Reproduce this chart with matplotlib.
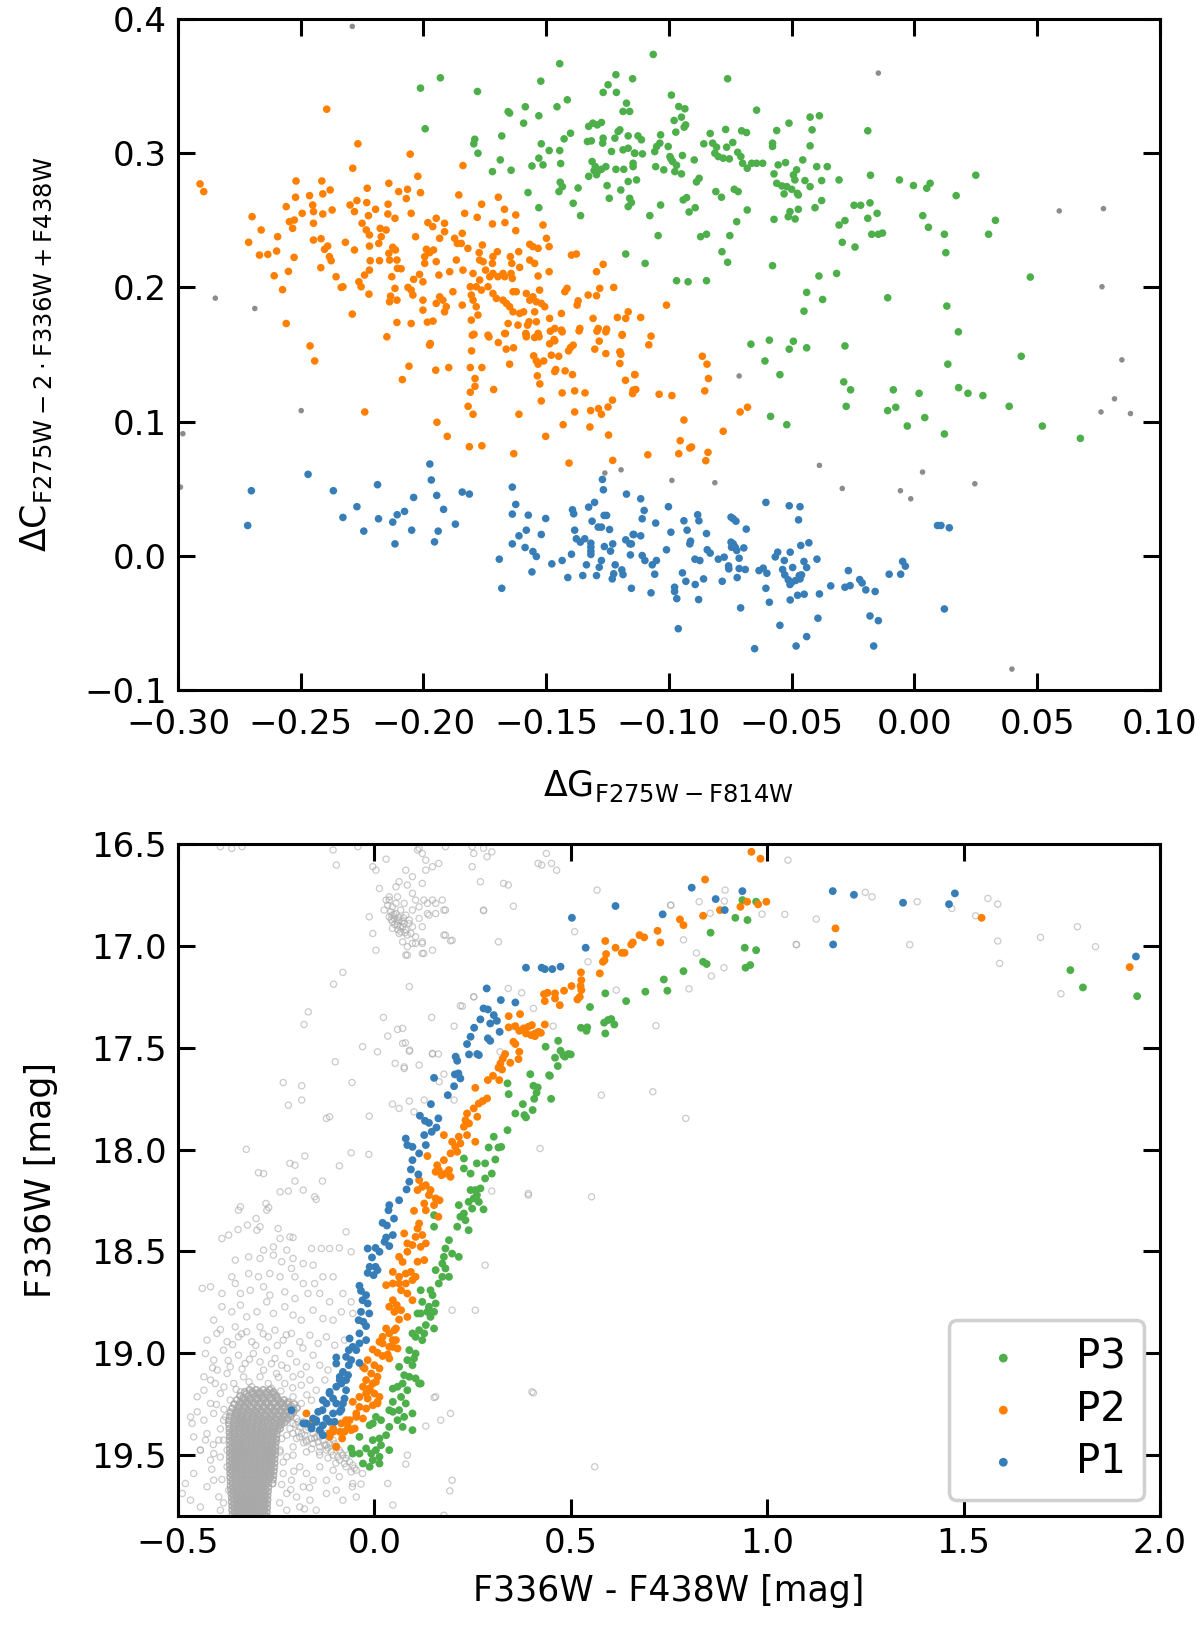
import numpy as np
import matplotlib
matplotlib.use('Agg')
import matplotlib.pyplot as plt

# ---------------- верхняя панель: хромосомная карта ----------------
top_p3 = [(-0.2012,0.3485),(-0.1931,0.3562),(-0.1993,0.3182),(-0.178,0.346),(-0.1522,0.3537),(-0.1445,0.3667),
          (-0.1655,0.331),(-0.1649,0.3299),(-0.1585,0.3346),(-0.1592,0.3224),(-0.153,0.3279),(-0.1456,0.3346),
          (-0.1414,0.3398),(-0.1791,0.3104),(-0.1795,0.307),(-0.1778,0.300),(-0.1681,0.3129),(-0.1687,0.295),
          (-0.1719,0.2863),(-0.1643,0.2873),(-0.152,0.307),(-0.1488,0.302),(-0.1445,0.302),(-0.1427,0.3107),
          (-0.1401,0.3149),(-0.153,0.2963),(-0.1513,0.2913),(-0.1558,0.2905),(-0.1441,0.2923),(-0.1574,0.2707),
          (-0.153,0.2594),(-0.1443,0.2784),(-0.1448,0.2714),(-0.1434,0.2751),(-0.137,0.2741),(-0.139,0.2627),
          (-0.136,0.2535),(-0.1327,0.320),(-0.131,0.3224),(-0.1275,0.3229),(-0.1292,0.3211),(-0.1332,0.3087),
          (-0.1316,0.3092),(-0.1268,0.3112),(-0.127,0.3075),(-0.1268,0.3453),(-0.1248,0.351),(-0.1216,0.3585),
          (-0.1214,0.3453),(-0.1173,0.3373),(-0.1187,0.3311),(-0.116,0.3311),(-0.1148,0.3555),
          (-0.1313,0.2938),(-0.1300,0.2900),(-0.1290,0.2865),(-0.1327,0.2828),(-0.1295,0.2840),(-0.1275,0.2880),
          (-0.1305,0.2870),(-0.1257,0.290),(-0.1234,0.3013),(-0.1216,0.288),(-0.1184,0.288),(-0.12,0.3174),
          (-0.1207,0.3162),(-0.122,0.3112),(-0.1166,0.3129),(-0.1187,0.3025),(-0.1166,0.3037),(-0.1139,0.300),
          (-0.1146,0.2925),(-0.1146,0.290),(-0.1166,0.2789),(-0.1132,0.2801),(-0.1252,0.2759),(-0.1196,0.2726),
          (-0.1243,0.2664),(-0.116,0.2664),(-0.1166,0.2602),(-0.1153,0.2632),(-0.1176,0.2249),
          (-0.1064,0.3736),(-0.0761,0.3555),(-0.099,0.3433),(-0.096,0.3348),(-0.0935,0.3331),(-0.0979,0.3244),
          (-0.0949,0.3269),(-0.0932,0.3211),(-0.0938,0.3194),(-0.0972,0.3157),(-0.0643,0.3321),(-0.1126,0.3129),
          (-0.1112,0.310),(-0.1034,0.3137),(-0.1037,0.3075),(-0.105,0.305),(-0.1058,0.3012),(-0.114,0.300),
          (-0.1108,0.2995),(-0.1003,0.305),(-0.0996,0.2975),(-0.0985,0.2938),(-0.0992,0.2958),(-0.0945,0.2983),
          (-0.1054,0.290),(-0.1021,0.2876),(-0.0969,0.291),(-0.0976,0.2863),(-0.0949,0.2846),(-0.0897,0.295),
          (-0.0858,0.307),(-0.0832,0.3147),(-0.0822,0.3075),(-0.0806,0.3045),(-0.0813,0.300),(-0.0799,0.2975),
          (-0.0779,0.2963),(-0.0754,0.2958),(-0.0769,0.3177),(-0.0765,0.3045),(-0.074,0.308),(-0.0704,0.3167),
          (-0.0684,0.3154),(-0.0720,0.3007),(-0.0707,0.2975),(-0.07,0.2925),(-0.0681,0.2888),(-0.0663,0.2925),
          (-0.0643,0.2925),(-0.0618,0.2925),(-0.0578,0.3075),(-0.0578,0.305),(-0.0561,0.3169),(-0.0511,0.3224),
          (-0.0425,0.3269),(-0.0387,0.3279),(-0.0417,0.3174),(-0.0425,0.3055),(-0.0572,0.2846),(-0.0555,0.2913),
          (-0.0525,0.293),(-0.0561,0.2776),(-0.054,0.2756),(-0.052,0.2751),(-0.0500,0.2731),(-0.0531,0.2697),
          (-0.0493,0.2838),(-0.0480,0.2876),(-0.0487,0.2801),(-0.0455,0.295),(-0.0446,0.2796),(-0.0425,0.2751),
          (-0.0398,0.290),(-0.0378,0.2796),(-0.0355,0.290),(-0.0307,0.2801),(-0.0473,0.2689),(-0.0477,0.2701),
          (-0.0507,0.2565),(-0.0514,0.2527),(-0.0486,0.251),(-0.0473,0.2582),(-0.0405,0.2594),(-0.0378,0.2647),
          (-0.0572,0.2507),(-0.0809,0.2714),(-0.0786,0.2672),(-0.0888,0.2786),(-0.0877,0.2813),(-0.0734,0.2731),
          (-0.0718,0.2714),(-0.0942,0.2652),(-0.0928,0.2669),(-0.0918,0.2562),(-0.0893,0.2594),(-0.1034,0.2614),
          (-0.1078,0.2535),(-0.1044,0.2386),(-0.0871,0.2378),(-0.0847,0.2396),(-0.0752,0.2386),(-0.0724,0.249),
          (-0.0681,0.2577),(-0.0784,0.2266),(-0.0761,0.2187),(-0.1097,0.2179),(-0.0969,0.205),(-0.0922,0.2042),
          (-0.0847,0.205),(-0.0578,0.2162),(-0.0389,0.2085),(-0.0317,0.2104),(-0.0439,0.1963),(-0.0374,0.191),
          (-0.045,0.1823),(-0.0307,0.2465),(-0.0283,0.2498),(-0.0294,0.2336),(-0.0242,0.2301),(-0.0246,0.2612),
          (-0.0219,0.2612),(-0.0181,0.263),(-0.019,0.2515),(-0.0152,0.2552),(-0.0174,0.2396),(-0.0147,0.2396),
          (-0.0130,0.2405),(-0.019,0.3167),(-0.0179,0.2836),(-0.0061,0.2801),(-0.0004,0.2759),(0.0050,0.2739),
          (0.0064,0.2776),(0.0034,0.2535),(0.0057,0.2448),(0.0122,0.2396),(0.0128,0.2259),(0.017,0.2684),
          (0.025,0.2836),(0.0330,0.25),(0.0302,0.2396),(0.0472,0.2077),(-0.0109,0.1923),(0.0132,0.1861),
          (0.0179,0.1669),(-0.0666,0.1577),(-0.0591,0.1607),(-0.0493,0.1599),(-0.0510,0.154),(-0.0439,0.155),
          (-0.0283,0.1564),(-0.0609,0.1452),(-0.0548,0.1350),(-0.0586,0.1039),(-0.052,0.0977),(-0.0288,0.1296),
          (-0.026,0.1237),(-0.0278,0.1114),(-0.0086,0.1237),(-0.0109,0.1082),(-0.0076,0.1107),(0.0019,0.1211),
          (0.0042,0.103),(-0.0029,0.0967),(0.0136,0.1428),(0.0122,0.0908),(0.018,0.1253),(0.0218,0.1211),
          (0.0279,0.1194),(0.0386,0.1114),(0.0435,0.1487),(0.0521,0.0967),(0.0676,0.0875)]

top_p2 = [(-0.291,0.2771),(-0.2895,0.2714),(-0.2394,0.3328),(-0.2267,0.307),(-0.2054,0.2993),(-0.2288,0.2888),
          (-0.1839,0.2908),(-0.2023,0.2828),(-0.2519,0.2793),(-0.2414,0.2793),(-0.238,0.2726),(-0.241,0.2697),
          (-0.2229,0.2739),(-0.2141,0.2776),(-0.2101,0.2714),(-0.2065,0.2731),(-0.207,0.2662),(-0.2012,0.2706),
          (-0.1856,0.2689),(-0.1695,0.2672),(-0.1763,0.262),(-0.167,0.2582),(-0.1832,0.2552),(-0.1781,0.2522),
          (-0.1624,0.254),(-0.1719,0.2473),(-0.1668,0.2483),(-0.1624,0.2423),(-0.2521,0.2672),(-0.2559,0.2602),
          (-0.2464,0.2684),(-0.2451,0.2614),(-0.2494,0.2552),(-0.2448,0.2565),(-0.241,0.2547),(-0.2372,0.2577),
          (-0.2299,0.2614),(-0.2281,0.2565),(-0.2271,0.2647),(-0.2231,0.2632),(-0.2195,0.2582),(-0.2144,0.262),
          (-0.2224,0.2535),(-0.2145,0.2547),(-0.2116,0.2515),(-0.205,0.2552),(-0.2698,0.2527),(-0.2661,0.2428),
          (-0.2712,0.2336),(-0.2594,0.2378),(-0.2546,0.249),(-0.2533,0.244),(-0.2526,0.2502),(-0.2448,0.2478),
          (-0.2668,0.2241),(-0.2634,0.2246),(-0.2598,0.2271),(-0.2527,0.2224),(-0.2448,0.2353),(-0.2417,0.2363),
          (-0.2403,0.2284),(-0.239,0.2308),(-0.2383,0.2229),(-0.2376,0.2199),(-0.2418,0.2147),(-0.2608,0.2087),
          (-0.255,0.2119),(-0.2574,0.1983),(-0.2318,0.2336),(-0.2281,0.2279),(-0.2356,0.208),(-0.2335,0.20),
          (-0.2328,0.2005),(-0.225,0.2478),(-0.2233,0.2428),(-0.222,0.2391),(-0.2176,0.244),(-0.2172,0.2378),
          (-0.2152,0.2428),(-0.2182,0.2328),(-0.222,0.2308),(-0.2217,0.2199),(-0.2179,0.2199),(-0.2141,0.2254),
          (-0.2125,0.2299),(-0.2114,0.2279),(-0.2138,0.2204),(-0.2108,0.2204),(-0.2106,0.2142),(-0.2091,0.2139),
          (-0.224,0.2092),(-0.222,0.2129),(-0.2263,0.2042),(-0.2254,0.2005),(-0.2222,0.195),(-0.2129,0.208),
          (-0.2134,0.1935),(-0.2138,0.1893),(-0.2108,0.1905),(-0.2116,0.1993),(-0.2063,0.20),(-0.204,0.206),
          (-0.2016,0.2097),(-0.205,0.198),(-0.2002,0.2042),(-0.2043,0.1943),(-0.2002,0.1905),(-0.2002,0.1831),
          (-0.1995,0.2179),(-0.1988,0.2284),(-0.1975,0.2259),(-0.1959,0.2279),(-0.1995,0.2229),(-0.1982,0.2483),
          (-0.1962,0.2453),(-0.1948,0.2515),(-0.1914,0.2478),(-0.1914,0.2415),(-0.1934,0.2366),(-0.1948,0.2192),
          (-0.2032,0.2378),(-0.1937,0.2092),(-0.1893,0.2117),(-0.1866,0.2204),(-0.1873,0.2366),(-0.1862,0.2328),
          (-0.1842,0.2403),(-0.1846,0.2328),(-0.1819,0.2291),(-0.1934,0.193),(-0.1921,0.1905),(-0.1907,0.1856),
          (-0.1948,0.1881),(-0.1914,0.1818),(-0.188,0.1968),(-0.1842,0.1868),(-0.1809,0.2005),(-0.1805,0.1943),
          (-0.1798,0.1905),(-0.1785,0.1856),(-0.1839,0.2129),(-0.1798,0.2104),(-0.1773,0.2259),(-0.1771,0.2204),
          (-0.1757,0.2192),(-0.1719,0.2179),(-0.176,0.2316),(-0.1717,0.2229),(-0.1699,0.2266),(-0.1646,0.2229),
          (-0.164,0.2179),(-0.1612,0.2266),(-0.1643,0.2104),(-0.1747,0.2129),(-0.173,0.208),(-0.1717,0.2104),
          (-0.1697,0.208),(-0.1669,0.208),(-0.1676,0.2104),(-0.1638,0.2067),(-0.1608,0.2149),(-0.1771,0.2055),
          (-0.1785,0.2005),(-0.1764,0.198),(-0.1737,0.2005),(-0.1717,0.1955),(-0.1703,0.1918),(-0.1676,0.1905),
          (-0.1662,0.1881),(-0.1635,0.1968),(-0.1622,0.1968),(-0.1649,0.1856),(-0.1635,0.1818),(-0.1608,0.1806),
          (-0.1592,0.1818),(-0.1581,0.1955),(-0.1554,0.193),(-0.1540,0.1893),(-0.1567,0.1905),(-0.1527,0.198),
          (-0.1567,0.2321),(-0.1554,0.2304),(-0.1533,0.2291),(-0.1567,0.2204),(-0.1547,0.2179),(-0.1513,0.2465),
          (-0.1499,0.2366),(-0.1488,0.2304),(-0.1533,0.2085),(-0.1488,0.2117),(-0.152,0.1881),(-0.1506,0.1856),
          (-0.1547,0.1818),(-0.157,0.1744),(-0.154,0.1744),(-0.1576,0.1719),(-0.1583,0.1657),(-0.1533,0.1657),
          (-0.1486,0.1769),(-0.1438,0.1806),(-0.1465,0.1694),(-0.1438,0.1682),(-0.1424,0.1968),(-0.1415,0.1993),
          (-0.137,0.19),(-0.1374,0.1868),(-0.1329,0.1943),(-0.1295,0.1938),(-0.1282,0.1993),(-0.1225,0.20),
          (-0.1397,0.2241),(-0.1377,0.2249),(-0.1295,0.2117),(-0.1268,0.2172),(-0.1309,0.1769),(-0.1288,0.1694),
          (-0.1254,0.1689),(-0.121,0.1776),(-0.1176,0.1769),(-0.1166,0.1818),(-0.119,0.1649),(-0.1363,0.1694),
          (-0.1468,0.1612),(-0.1486,0.158),(-0.1805,0.1756),(-0.1778,0.1794),(-0.1801,0.1644),(-0.1737,0.1644),
          (-0.1669,0.1657),(-0.1655,0.1731),(-0.1615,0.1719),(-0.1581,0.1644),(-0.1984,0.1741),(-0.1961,0.1749),
          (-0.205,0.1731),(-0.2108,0.1739),(-0.229,0.1801),(-0.2559,0.1731),(-0.2149,0.1632),
          (-0.2462,0.1564),(-0.2443,0.1452),(-0.1972,0.1582),(-0.1975,0.157),(-0.2059,0.1413),(-0.2086,0.1313),
          (-0.195,0.1383),(-0.1897,0.1403),(-0.2239,0.1072),(-0.1945,0.0995),(-0.1903,0.0890),(-0.1813,0.0813),
          (-0.1762,0.082),(-0.1794,0.1651),(-0.1733,0.1631),(-0.1695,0.1589),(-0.1666,0.1656),(-0.1663,0.154),
          (-0.1633,0.155),(-0.1804,0.1527),(-0.1809,0.1403),(-0.1762,0.1403),(-0.179,0.1321),(-0.179,0.1263),
          (-0.1809,0.1219),(-0.1818,0.1114),(-0.1798,0.1055),(-0.1714,0.1239),(-0.1649,0.1428),(-0.1611,0.1055),
          (-0.1632,0.0761),(-0.1581,0.1632),(-0.1547,0.1627),(-0.1529,0.1632),(-0.1465,0.1602),(-0.1483,0.1674),
          (-0.1435,0.1669),(-0.1366,0.1676),(-0.1293,0.1674),(-0.1257,0.1669),(-0.1191,0.1644),(-0.1551,0.149),
          (-0.154,0.1452),(-0.1533,0.1428),(-0.151,0.1452),(-0.1479,0.1495),(-0.1449,0.1487),(-0.1536,0.1341),
          (-0.1526,0.1281),(-0.152,0.1154),(-0.1461,0.1388),(-0.1465,0.1373),(-0.1423,0.1378),(-0.1393,0.135),
          (-0.1435,0.1214),(-0.1384,0.1229),(-0.1342,0.1214),(-0.1409,0.1527),(-0.1401,0.1552),(-0.139,0.157),
          (-0.1302,0.154),(-0.1284,0.16),(-0.1257,0.1507),(-0.12,0.1520),(-0.1196,0.1502),(-0.12,0.1433),
          (-0.1431,0.0977),(-0.1384,0.1072),(-0.1322,0.0960),(-0.1319,0.1082),(-0.1287,0.1097),(-0.1275,0.1055),
          (-0.1248,0.1109),(-0.1246,0.0900),(-0.123,0.116),(-0.1502,0.0890),(-0.1407,0.0691),(-0.1229,0.0711),
          (-0.1177,0.1308),(-0.1146,0.1234),(-0.1139,0.135),(-0.1148,0.1209),(-0.1073,0.1637),(-0.1082,0.1572),
          (-0.0864,0.1487),(-0.0845,0.1428),(-0.1139,0.1350),(-0.1135,0.1239),(-0.1040,0.1204),(-0.0988,0.1194),
          (-0.0839,0.1321),(-0.0854,0.1229),(-0.0939,0.1012),(-0.071,0.1072),(-0.068,0.1107),(-0.0779,0.0928),
          (-0.0954,0.0858),(-0.0915,0.0803),(-0.0908,0.0811),(-0.0960,0.0761),(-0.0841,0.0771),(-0.0850,0.0709),
          (-0.1086,0.0753),(-0.101,0.1868),(-0.1115,0.1776)]

top_p1 = [(-0.2701,0.0485),(-0.2716,0.0226),(-0.247,0.0607),(-0.2367,0.0485),(-0.2187,0.053),(-0.2328,0.0286),
          (-0.2271,0.0366),(-0.2243,0.0184),(-0.2183,0.0276),(-0.2125,0.0251),(-0.2107,0.0306),(-0.2077,0.0331),
          (-0.2116,0.0089),(-0.2048,0.0191),(-0.204,0.0435),(-0.1974,0.0684),(-0.1968,0.0565),(-0.1946,0.0450),
          (-0.1918,0.0346),(-0.194,0.0184),(-0.1955,0.0104),(-0.187,0.0236),(-0.1842,0.0475),(-0.1813,0.046),
          (-0.1638,0.0512),(-0.1624,0.0383),(-0.1638,0.0311),(-0.1573,0.0303),(-0.1502,0.0278),(-0.1691,-0.0025),
          (-0.1681,-0.0242),(-0.1638,0.0089),(-0.1611,0.0149),(-0.1581,0.0191),(-0.1586,0.0062),(-0.1554,0.0032),
          (-0.154,-0.0005),(-0.1558,-0.0120),(-0.152,0.0159),(-0.1477,-0.0060),(-0.1435,-0.0035),(-0.1412,-0.0162),
          (-0.1397,0.0012),(-0.1393,0.0343),(-0.1388,0.0313),(-0.1384,0.0191),(-0.1377,0.0127),(-0.1361,0.0102),
          (-0.1343,0.0127),(-0.1318,0.0094),(-0.1318,0.0064),(-0.1318,0.0035),(-0.1318,0.001),(-0.1351,-0.0147),
          (-0.1336,-0.0067),(-0.1295,-0.0147),(-0.1284,-0.0085),(-0.1275,-0.0035),(-0.1327,0.0363),(-0.1303,0.0398),
          (-0.1313,0.0258),(-0.1288,0.0214),(-0.1275,0.0214),(-0.1264,0.0301),(-0.1254,0.0301),(-0.1242,0.0196),
          (-0.1271,0.0569),(-0.1267,0.0492),(-0.1263,0.0069),(-0.1238,0.0035),(-0.1229,0.0089),(-0.1219,-0.0067),
          (-0.1225,-0.0134),(-0.1231,-0.0172),(-0.1192,-0.0105),(-0.1187,-0.014),(-0.1173,0.046),(-0.1176,0.0119),
          (-0.1159,0.0089),(-0.1146,0.0159),(-0.1157,0.0007),(-0.1153,-0.0242),(-0.1115,0.0425),(-0.1101,0.0338),
          (-0.1109,0.0276),(-0.1054,0.0244),(-0.1143,0.0159),(-0.1115,0.0149),(-0.1153,0.0089),(-0.1002,0.0366),
          (-0.0939,0.0261),(-0.0883,0.0306),(-0.0878,0.0261),(-0.0926,0.0191),(-0.0992,0.0176),(-0.0847,0.0166),
          (-0.0912,0.0109),(-0.0915,0.0089),(-0.1010,0.0045),(-0.1109,0.0002),(-0.1098,-0.0035),(-0.1051,-0.0035),
          (-0.1068,-0.0067),(-0.1058,-0.0137),(-0.0945,-0.0127),(-0.0931,-0.019),(-0.0893,-0.0214),(-0.0859,-0.0172),
          (-0.0894,-0.0025),(-0.0874,-0.0035),(-0.0844,0.0045),(-0.0832,0.002),(-0.0799,-0.0025),(-0.0775,-0.001),
          (-0.0757,-0.0075),(-0.0756,-0.0097),(-0.0783,-0.019),(-0.0722,-0.0162),(-0.0714,-0.0018),(-0.0714,-0.0095),
          (-0.0689,-0.0102),(-0.0747,0.0288),(-0.0738,0.0276),(-0.0727,0.0258),(-0.0685,0.0199),(-0.0747,0.0102),
          (-0.0738,0.0089),(-0.0730,0.0064),(-0.0745,0.0064),(-0.0695,0.0059),(-0.0724,0.0040),(-0.0977,-0.0234),
          (-0.0977,-0.0266),(-0.0968,-0.0319),(-0.1073,-0.0276),(-0.0962,-0.0543),(-0.0879,-0.0326),(-0.0708,-0.0388),
          (-0.0605,0.0398),(-0.0510,0.0373),(-0.0466,0.0366),(-0.0472,0.0268),(-0.0463,0.0077),(-0.0430,0.0097),
          (-0.0506,0.0027),(-0.0557,0.0027),(-0.0567,-0.0008),(-0.0530,-0.0035),(-0.0633,-0.0110),(-0.0616,-0.0092),
          (-0.0601,-0.0130),(-0.0537,-0.0102),(-0.0528,-0.0142),(-0.0496,-0.0087),(-0.0450,-0.0042),(-0.0439,-0.0087),
          (-0.0397,-0.0025),(-0.0514,-0.0179),(-0.0500,-0.0197),(-0.0484,-0.0184),(-0.0466,-0.0172),(-0.046,-0.0142),
          (-0.0507,-0.0214),(-0.0469,-0.0147),(-0.0605,-0.0242),(-0.0591,-0.0346),(-0.0506,-0.0329),(-0.0476,-0.0294),
          (-0.0449,-0.0286),(-0.0387,-0.0284),(-0.0393,-0.0465),(-0.0548,-0.0518),(-0.0439,-0.0602),(-0.0482,-0.0672),
          (-0.0651,-0.0692),(-0.0341,-0.0224),(-0.0283,-0.0234),(-0.0262,-0.0222),(-0.0269,-0.0110),(-0.0223,-0.0177),
          (-0.0213,-0.0202),(-0.0198,-0.0254),(-0.0160,-0.0266),(-0.0181,-0.0448),(-0.0147,-0.0483),(-0.0166,-0.0672),
          (-0.0103,-0.0137),(-0.0056,-0.0137),(-0.0048,-0.0042),(-0.0037,-0.0077),(0.0094,0.0226),(0.0108,0.0226),
          (0.0142,0.0209),(0.0122,-0.0396)]

top_other = [(-0.229,0.3945),(-0.2848,0.192),(-0.2687,0.1843),(-0.298,0.091),(-0.299,0.0512),(-0.2498,0.1082),
             (-0.1261,0.0617),(-0.1195,0.0641),(-0.0147,0.3597),(0.0590,0.257),(0.0770,0.2587),(0.0764,0.2005),
             (0.0760,0.1072),(-0.0714,0.134),(-0.0387,0.0674),(-0.0988,0.0562),(-0.0813,0.0545),(-0.0294,0.0502),
             (0.0033,0.0624),(-0.0057,0.0485),(-0.0015,0.0425),(0.0246,0.0537),(0.0397,-0.0844),(0.0845,0.146),
             (0.0815,0.117),(0.088,0.106)]

# ---------------- нижняя панель: диаграмма цвет-величина ----------------
cmd_p3 = [(0.937,16.775),(0.972,16.783),(0.919,16.862),(0.950,16.873),(0.856,16.935),(0.943,17.009),(0.972,17.021),
          (0.837,17.078),(0.846,17.089),(0.945,17.107),(0.957,17.094),(0.787,17.124),(0.737,17.165),(0.746,17.22),
          (0.690,17.225),(0.641,17.271),(0.588,17.233),(0.549,17.3),(0.526,17.402),(0.542,17.4),(0.540,17.417),
          (0.585,17.377),(0.595,17.364),(0.603,17.359),(0.611,17.386),(0.588,17.43),(0.468,17.466),(0.436,17.495),
          (0.474,17.515),(0.481,17.536),(0.485,17.544),(0.494,17.531),(0.500,17.533),(0.460,17.549),(0.467,17.59),
          (0.397,17.63),(0.445,17.635),(0.447,17.638),(0.339,17.675),(0.342,17.728),(0.405,17.687),(0.416,17.695),
          (0.413,17.721),(0.407,17.751),(0.450,17.751),(0.378,17.777),(0.403,17.806),(0.359,17.823),(0.382,17.831),
          (0.386,17.842),(0.339,17.905),(0.304,17.937),(0.291,17.99),(0.316,17.99),(0.323,17.987),
          (1.772,17.119),(1.804,17.204),(1.942,17.247),
          (0.228,18.044),(0.261,18.068),(0.282,18.068),(0.308,18.049),(0.299,18.118),(0.245,18.118),(0.228,18.093),
          (0.282,18.142),(0.270,18.191),(0.257,18.199),(0.245,18.199),(0.261,18.224),(0.253,18.24),(0.240,18.257),
          (0.266,18.257),(0.278,18.294),(0.249,18.29),(0.215,18.273),(0.219,18.33),(0.228,18.314),(0.211,18.379),
          (0.232,18.347),(0.240,18.396),(0.152,18.322),(0.152,18.379),(0.190,18.445),(0.181,18.486),(0.177,18.527),
          (0.198,18.511),(0.215,18.527),(0.173,18.56),(0.181,18.584),(0.190,18.625),(0.173,18.625),(0.164,18.658),
          (0.156,18.592),(0.118,18.691),(0.143,18.691),(0.148,18.715),(0.122,18.748),(0.139,18.772),(0.152,18.797),
          (0.143,18.822),(0.156,18.756),(0.135,18.797),(0.118,18.805),(0.110,18.805),(0.131,18.862),(0.114,18.887),
          (0.127,18.903),(0.105,18.92),(0.122,18.936),(0.097,18.903),(0.152,18.879),(0.089,18.985),(0.105,19.002),
          (0.101,19.026),(0.084,19.034),(0.097,19.059),(0.063,19.067),(0.076,19.108),(0.089,19.116),(0.105,19.124),
          (0.118,19.149),(0.072,19.149),(0.059,19.165),(0.047,19.174),(0.084,19.182),(0.068,19.215),(0.080,19.247),
          (0.047,19.239),(0.038,19.28),(0.063,19.28),(0.097,19.296),(0.076,19.313),(0.004,19.313),(0.017,19.329),
          (-0.004,19.345),(-0.012,19.354),(0.038,19.362),(0.030,19.403),(0.013,19.419),(-0.004,19.427),(0.017,19.452),
          (0.004,19.476),(-0.008,19.493),(0.038,19.476),(-0.038,19.493),(-0.055,19.493),(0.013,19.509),(-0.021,19.468),
          (-0.038,19.411),(-0.004,19.525),(0.013,19.542),(-0.029,19.542),(-0.012,19.558),(-0.059,19.468),
          (0.097,19.378),(0.072,19.362),(0.059,19.329),(0.047,19.288),(0.114,19.149)]

cmd_p2 = [(0.960,16.538),(0.983,16.572),(0.842,16.674),(1.546,16.862),(1.923,17.104),
          (0.778,16.87),(0.787,16.898),(0.837,16.852),(0.880,16.824),(0.932,16.808),(0.949,16.783),(0.977,16.796),
          (0.998,16.783),(1.174,16.914),(0.675,16.947),(0.687,16.958),(0.721,16.926),(0.728,16.983),(0.588,16.976),
          (0.614,17.009),(0.630,17.034),(0.637,17.034),(0.654,16.993),(0.658,16.983),(0.590,17.04),(0.586,17.07),
          (0.582,17.078),(0.526,17.13),(0.574,17.135),(0.527,17.168),(0.525,17.197),(0.527,17.217),(0.523,17.25),
          (0.517,17.263),(0.502,17.197),(0.483,17.22),(0.460,17.233),(0.460,17.258),(0.472,17.291),(0.441,17.23),
          (0.432,17.237),(0.434,17.271),(0.342,17.345),(0.371,17.335),(0.434,17.386),(0.342,17.400),(0.359,17.394),
          (0.380,17.405),(0.392,17.397),(0.401,17.389),(0.386,17.43),(0.399,17.438),(0.409,17.43),(0.418,17.422),
          (0.424,17.427),(0.409,17.443),(0.369,17.417),(0.354,17.471),(0.359,17.482),(0.369,17.52),(0.367,17.556),
          (0.333,17.531),(0.327,17.553),(0.321,17.577),(0.325,17.607),(0.346,17.574),(0.316,17.598),(0.302,17.638),
          (0.289,17.659),(0.318,17.659),(0.257,17.697),(0.287,17.749),(0.276,17.762),(0.266,17.774),(0.253,17.798),
          (0.236,17.823),(0.262,17.839),(0.232,17.856),(0.241,17.872),(0.228,17.888),
          (0.177,17.929),(0.236,17.929),(0.215,17.937),(0.198,17.962),(0.206,17.987),(0.194,18.019),(0.211,18.011),
          (0.219,17.97),(0.257,17.962),(0.135,18.032),(0.160,18.077),(0.164,18.101),(0.181,18.118),(0.190,18.101),
          (0.177,18.052),(0.156,18.109),(0.171,18.126),(0.194,18.134),(0.114,18.15),(0.122,18.183),(0.131,18.175),
          (0.143,18.199),(0.139,18.224),(0.156,18.24),(0.166,18.249),(0.110,18.199),(0.101,18.301),(0.131,18.298),
          (0.127,18.265),(0.152,18.273),(0.163,18.33),(0.110,18.388),(0.114,18.363),(0.076,18.412),(0.122,18.42),
          (0.105,18.429),(0.131,18.461),(0.118,18.478),(0.097,18.469),(0.127,18.543),(0.110,18.551),(0.084,18.461),
          (0.084,18.502),(0.063,18.527),(0.072,18.552),(0.047,18.601),(0.063,18.625),(0.080,18.609),(0.093,18.601),
          (0.097,18.641),(0.105,18.625),(0.080,18.658),(0.063,18.658),(0.030,18.666),(0.047,18.658),(0.068,18.691),
          (0.084,18.707),(0.097,18.74),(0.047,18.74),(0.057,18.764),(0.068,18.789),(0.051,18.797),(0.038,18.772),
          (0.063,18.835),(0.084,18.822),(0.030,18.879),(0.021,18.92),(0.038,18.903),(0.051,18.887),(0.047,18.936),
          (0.038,18.969),(0.059,18.977),(0.013,18.944),(0.055,18.879),(-0.004,18.982),(0.008,18.998),(0.021,19.014),
          (0.034,19.006),(0.000,19.059),(-0.025,19.075),(-0.008,19.1),(0.008,19.116),(-0.021,19.132),(-0.004,19.149),
          (0.013,19.075),(-0.029,19.165),(-0.012,19.182),(0.000,19.198),(-0.017,19.223),(-0.038,19.215),
          (-0.055,19.239),(-0.038,19.264),(-0.021,19.272),(-0.004,19.256),(0.008,19.239),(0.013,19.215),
          (-0.046,19.296),(-0.029,19.321),(-0.063,19.329),(-0.084,19.345),(-0.067,19.362),(-0.050,19.37),
          (-0.088,19.386),(-0.105,19.386),(-0.114,19.411),(-0.097,19.46),(-0.173,19.296),(-0.160,19.345),
          (-0.082,19.419),(-0.076,19.386),(-0.059,19.378),(-0.072,19.329),(-0.046,19.313),(-0.021,19.198),
          (0.008,19.247),(-0.012,19.173),(0.004,19.141),(-0.029,19.067),(-0.017,19.034),(0.038,19.026),
          (0.021,18.952),(0.047,18.969),(0.055,18.936),(-0.097,19.46),(-0.114,19.394),(-0.105,19.37)]

cmd_p1 = [(0.808,16.714),(0.869,16.77),(0.937,16.731),(1.167,16.731),(1.221,16.749),(1.346,16.788),(1.463,16.795),
          (1.478,16.742),(1.939,17.052),
          (0.614,16.804),(0.503,16.862),(0.734,16.845),(0.892,16.824),(1.168,16.993),(0.538,17.009),(0.386,17.107),
          (0.426,17.107),(0.434,17.114),(0.453,17.114),(0.474,17.102),(0.286,17.209),(0.322,17.266),(0.359,17.278),
          (0.278,17.307),(0.289,17.312),(0.304,17.34),(0.295,17.381),(0.312,17.368),(0.270,17.361),(0.319,17.422),
          (0.254,17.402),(0.245,17.446),(0.236,17.482),(0.289,17.454),(0.295,17.466),(0.241,17.533),(0.262,17.531),
          (0.266,17.536),(0.207,17.544),(0.211,17.564),(0.214,17.626),(0.219,17.651),(0.205,17.631),(0.152,17.648),
          (0.203,17.689),(0.187,17.733),(0.144,17.777),(0.163,17.847),(0.116,17.834),(0.129,17.859),(0.139,17.869),
          (0.158,17.892),(0.146,17.913),(0.127,17.929),
          (0.080,17.946),(0.084,17.978),(0.097,17.987),(0.114,18.019),(0.131,17.978),(0.097,18.052),(0.093,18.098),
          (0.112,18.122),(0.089,18.158),(0.082,18.196),(0.063,18.249),(0.038,18.273),(0.036,18.298),(0.050,18.339),
          (0.021,18.36),(0.032,18.373),(0.030,18.432),(0.026,18.453),(0.038,18.474),(0.047,18.42),(-0.017,18.486),
          (0.003,18.483),(0.013,18.502),(-0.006,18.53),(-0.012,18.576),(0.003,18.576),(-0.017,18.606),(0.008,18.592),
          (-0.002,18.617),(-0.038,18.669),(-0.034,18.694),(-0.021,18.715),(-0.030,18.74),(-0.017,18.756),
          (-0.034,18.797),(-0.013,18.805),(-0.028,18.846),(-0.040,18.838),(-0.021,18.867),(-0.063,18.928),
          (-0.055,18.969),(-0.046,18.985),(-0.065,18.985),(-0.038,18.903),(-0.097,19.021),(-0.097,19.051),
          (-0.072,19.018),(-0.059,19.034),(-0.038,19.048),(-0.065,19.059),(-0.088,19.116),(-0.084,19.149),
          (-0.072,19.132),(-0.067,19.108),(-0.080,19.092),(-0.097,19.165),(-0.114,19.19),(-0.105,19.223),
          (-0.122,19.247),(-0.132,19.28),(-0.143,19.288),(-0.097,19.247),(-0.084,19.277),(-0.076,19.223),
          (-0.105,19.296),(-0.122,19.321),(-0.148,19.337),(-0.131,19.354),(-0.114,19.337),(-0.156,19.321),
          (-0.173,19.345),(-0.211,19.28),(-0.181,19.345),(-0.160,19.362),(-0.139,19.378),(-0.131,19.403),
          (-0.101,19.337),(-0.160,19.37),(-0.148,19.329),(-0.131,19.231),(-0.114,19.198),(-0.080,19.247),
          (-0.088,19.288),(-0.072,19.182),(-0.088,19.132),(-0.038,18.952),(-0.021,18.936)]

# поле (серые звёзды)
field = [(-0.392,16.513),(-0.363,16.521),(-0.337,16.513),(-0.105,16.529),(-0.097,16.603),(0.030,16.574),(-0.042,16.513),
         (0.110,16.529),(0.181,16.513),(0.438,16.546),(0.426,16.603),(0.451,16.595),(0.464,16.628),(0.417,16.595),
         (0.249,16.611),(0.253,16.546),(0.278,16.521),(0.287,16.562),(0.299,16.538),(0.249,16.513),(0.270,16.685),
         (0.341,16.701),(0.329,16.693),(0.278,16.824),(0.354,16.805),(0.198,16.972),(0.181,16.947),
         (0.567,16.726),(0.754,16.80),(0.891,16.78),(0.893,16.726),(0.987,16.844),(1.045,16.845),(1.125,16.868),
         (1.053,16.579),(1.250,16.737),(1.267,16.759),(1.382,16.783),(1.562,16.767),(1.587,16.795),(1.531,16.852),
         (1.470,16.816),(1.790,16.906),(1.836,17.004),(1.696,16.958),(1.587,16.976),(1.592,17.086),(1.363,16.994),
         (1.074,16.994),(0.820,17.035),(0.890,17.107),(0.801,17.211),(1.748,17.235),(0.787,16.97),(0.855,16.84),
         (1.075,16.993),(0.858,17.148),(0.717,17.392),(0.709,17.716),(0.793,17.847),(0.578,17.733),(0.616,17.217),
         (0.553,18.232),(0.392,18.224),(0.422,17.995),(0.544,17.078),(0.510,16.93),(0.316,16.98),(0.278,16.827),
         (0.755,16.8),(0.827,16.783),(0.177,16.947),(0.194,16.975),(0.148,17.021),(0.122,16.98),(0.105,16.988),
         (0.084,17.045),(0.122,17.037),(0.089,17.2),(0.224,17.296),(0.253,17.25),(0.146,17.351),(0.203,17.394),
         (0.072,17.405),(0.079,17.476),(0.089,17.517),(0.148,17.531),(0.163,17.531),(0.114,17.585),(0.076,17.602),
         (0.165,17.667),(0.203,17.757),(0.127,17.757),(0.101,17.815),(0.063,17.798),
         (0.405,19.195),(0.561,19.558),(0.152,19.218),(0.169,19.329),(0.131,19.358),(0.198,19.624),(0.192,19.676),
         (0.084,19.501),(0.080,19.545),(0.034,19.64),(0.047,19.746),(-0.034,19.643),(-0.056,19.656),(0.177,19.796),
         (-0.080,17.130),(-0.104,17.188),(-0.168,17.324),(-0.179,17.386),(-0.232,17.671),(-0.185,17.687),
         (-0.219,17.782),(-0.185,17.757),(-0.0995,17.569),(-0.057,17.671),(-0.030,17.495),(0.008,17.52),
         (0.034,17.443),(0.059,17.41),(0.090,17.512),(0.072,17.479),(0.023,17.351),(0.053,17.577),(0.076,17.594),
         (-0.122,17.847),(-0.114,17.839),(-0.013,17.836),(0.046,17.777),(0.089,17.762),(0.148,17.528),(0.177,17.63),
         (0.219,17.294),(0.253,17.25),(0.341,17.209),(0.375,17.23),(0.405,17.307),(0.354,17.397),(0.455,17.394),
         (0.320,17.52),(0.392,18.216),(0.282,18.568),(0.299,18.204),(0.198,18.789),(0.257,18.789),(0.401,19.19),
         (0.156,19.214),(0.194,19.296)]

# сгущение красных гигантов
clump = [(0.038,16.775),(0.046,16.808),(0.055,16.841),(0.063,16.873),(0.072,16.906),(0.059,16.898),(0.051,16.865),
         (0.042,16.832),(0.034,16.8),(0.067,16.931),(0.080,16.922),(0.076,16.89),(0.084,16.947),(0.063,16.939),
         (0.046,16.881),(0.038,16.857),(0.055,16.791),(0.067,16.824),(0.080,16.849),(0.089,16.873),(0.097,16.906),
         (0.093,16.939),(0.046,16.914),(0.030,16.775),(0.025,16.824),(0.038,16.759),(0.059,16.759),(0.076,16.791),
         (0.097,16.824),(0.105,16.775),(0.114,16.808),(0.126,16.775),(0.135,16.791),(0.148,16.775),(0.156,16.791),
         (0.173,16.775),(0.181,16.824),(0.135,16.841),(0.114,16.865),(0.122,16.906),(0.105,16.955),(0.097,16.988),
         (0.084,17.004),(0.072,16.98),(0.080,17.045),(0.122,16.988),(0.126,17.037),(0.084,16.701),(0.097,16.742),
         (0.122,16.693),(0.097,16.66),(0.080,16.628),(0.131,16.628),(0.148,16.611),(0.164,16.595),(0.131,16.579),
         (0.122,16.546),(0.114,16.521),(0.063,16.685),(0.055,16.71),(0.013,16.718),(-0.004,16.611),(0.004,16.628),
         (-0.013,16.857),(-0.004,16.939),(0.004,17.021),(0.177,16.824),(0.156,16.841),(0.139,16.849),
         (0.050,16.845),(0.062,16.860),(0.070,16.880),(0.058,16.880),(0.066,16.905),(0.052,16.895),(0.074,16.862),
         (0.045,16.850),(0.060,16.920),(0.078,16.935),(0.088,16.890),(0.043,16.870)]

# левая часть: поле и АВГ
left_field = [(-0.326,17.999),(-0.295,18.114),(-0.282,18.118),(-0.202,18.155),(-0.132,18.155),(-0.177,18.032),
              (-0.202,18.077),(-0.215,18.068),(-0.059,18.016),(-0.014,18.024),(-0.089,18.08),(-0.240,18.208),
              (-0.219,18.204),(-0.181,18.199),(-0.152,18.232),(-0.148,18.245),(-0.276,18.265),(-0.269,18.285),
              (-0.274,18.298),(-0.341,18.281),(-0.346,18.298),(-0.301,18.339),(-0.291,18.379),(-0.299,18.396),
              (-0.388,18.437),(-0.371,18.42),(-0.347,18.393),(-0.323,18.371),(-0.245,18.388),(-0.240,18.437),
              (-0.215,18.429),(-0.207,18.432),(-0.223,18.494),(-0.257,18.478),(-0.282,18.494),(-0.160,18.486),
              (-0.135,18.486),(-0.114,18.486),(-0.089,18.483),(-0.072,18.404),(-0.059,18.502),(-0.354,18.543),
              (-0.320,18.527),(-0.291,18.535),(-0.257,18.519),(-0.236,18.551),(-0.207,18.535),(-0.181,18.56),
              (-0.156,18.568),(-0.363,18.625),(-0.354,18.658),(-0.320,18.609),(-0.295,18.625),(-0.266,18.609),
              (-0.240,18.625),(-0.211,18.584),(-0.202,18.625),(-0.181,18.658),(-0.152,18.658),(-0.131,18.625),
              (-0.105,18.625),(-0.438,18.682),(-0.417,18.674),(-0.388,18.707),(-0.341,18.707),(-0.316,18.691),
              (-0.282,18.674),(-0.266,18.715),(-0.228,18.699),(-0.202,18.732),(-0.169,18.707),(-0.139,18.707),
              (-0.114,18.748),(-0.080,18.707),(-0.059,18.748),(-0.409,18.838),(-0.388,18.772),(-0.363,18.797),
              (-0.341,18.764),(-0.325,18.822),(-0.299,18.797),(-0.274,18.748),(-0.257,18.805),(-0.228,18.772),
              (-0.207,18.813),(-0.186,18.838),(-0.156,18.789),(-0.131,18.83),(-0.105,18.838),(-0.084,18.797),
              (-0.055,18.805),(-0.426,18.936),(-0.401,18.903),(-0.375,18.944),(-0.354,18.871),(-0.346,18.92),
              (-0.325,18.895),(-0.312,18.944),(-0.291,18.871),(-0.270,18.92),(-0.253,18.887),(-0.232,18.936),
              (-0.211,18.903),(-0.190,18.944),(-0.164,18.912),(-0.143,18.952),(-0.122,18.92),(-0.101,18.961),
              (-0.076,18.936),(-0.430,19.002),(-0.409,19.034),(-0.384,18.985),(-0.367,19.067),(-0.346,19.01),
              (-0.329,19.051),(-0.308,19.002),(-0.291,19.043),(-0.274,18.985),(-0.253,19.026),(-0.236,19.059),
              (-0.215,19.002),(-0.198,19.043),(-0.173,19.067),(-0.156,19.01),(-0.139,19.059),(-0.118,19.083),
              (-0.434,19.116),(-0.405,19.149),(-0.375,19.1),(-0.358,19.149),(-0.333,19.116),(-0.312,19.165),
              (-0.291,19.116),(-0.270,19.149),(-0.249,19.1),(-0.228,19.149),(-0.207,19.116),(-0.186,19.157),
              (-0.164,19.132),(-0.148,19.182),(-0.126,19.132),(-0.451,19.214),(-0.417,19.247),(-0.392,19.198),
              (-0.367,19.231),(-0.341,19.19),(-0.325,19.231),(-0.299,19.198),(-0.274,19.239),(-0.253,19.206),
              (-0.232,19.247),(-0.207,19.214),(-0.186,19.247),(-0.160,19.231),(-0.468,19.313),(-0.434,19.329),
              (-0.409,19.296),(-0.384,19.329),(-0.354,19.296),(-0.333,19.329),(-0.312,19.288),(-0.287,19.321),
              (-0.266,19.296),(-0.240,19.337),(-0.219,19.313),(-0.194,19.337),(-0.460,19.411),(-0.426,19.395),
              (-0.396,19.427),(-0.367,19.403),(-0.346,19.436),(-0.320,19.403),(-0.299,19.427),(-0.274,19.395),
              (-0.249,19.427),(-0.223,19.403),(-0.198,19.419),(-0.173,19.436),(-0.148,19.411),(-0.122,19.452),
              (-0.443,19.476),(-0.409,19.493),(-0.375,19.476),(-0.341,19.501),(-0.308,19.476),(-0.274,19.501),
              (-0.240,19.485),(-0.207,19.501),(-0.173,19.485),(-0.139,19.501),
              (-0.489,19.689),(-0.481,19.64),(-0.468,19.722),(-0.460,19.591),(-0.443,19.476),(-0.430,19.427),
              (-0.417,19.525),(-0.409,19.624),(-0.396,19.706),(-0.392,19.771),(-0.443,19.755),(-0.426,19.656),
              (-0.464,19.345),(-0.451,19.288),(-0.434,19.182),(-0.417,19.132),(-0.400,19.083),(-0.379,19.313),
              (-0.384,19.427),(-0.375,19.558),(-0.371,19.673),
              (-0.392,18.884),(-0.361,18.958),(-0.338,18.905),(-0.302,18.962),(-0.283,18.905),(-0.247,18.962),
              (-0.224,18.91),(-0.182,18.975),(-0.372,19.036),(-0.337,19.078),(-0.318,19.03),(-0.282,19.083),
              (-0.262,19.052),(-0.244,19.118),(-0.222,19.074),(-0.187,19.104),(-0.412,19.072),(-0.383,19.166),
              (-0.352,19.178),(-0.319,19.141),(-0.262,19.172),(-0.238,19.186),(-0.208,19.17),(-0.172,19.205),
              (-0.402,19.252),(-0.383,19.276),(-0.392,19.372),(-0.41,19.449),(-0.392,19.51),(-0.388,19.62),
              (-0.384,19.735),(-0.414,19.57),(-0.236,19.42),(-0.232,19.535),(-0.236,19.645),(-0.241,19.735),
              (-0.205,19.58),(-0.213,19.67),(-0.178,19.765),(-0.165,19.66)]

# ветвь субгигантов
sgb = [(-0.223,19.329),(-0.207,19.345),(-0.198,19.321),(-0.190,19.362),(-0.181,19.337),(-0.173,19.378),
       (-0.164,19.353),(-0.156,19.394),(-0.148,19.37),(-0.139,19.411),(-0.131,19.427),(-0.122,19.394),
       (-0.114,19.444),(-0.105,19.427),(-0.097,19.46),(-0.089,19.476),(-0.080,19.501),(-0.072,19.517),
       (-0.063,19.534),(-0.055,19.55),(-0.072,19.558),(-0.089,19.525),(-0.105,19.501),(-0.122,19.476),
       (-0.139,19.46),(-0.156,19.444),(-0.173,19.427),(-0.190,19.411),(-0.207,19.394),(-0.215,19.37),
       (-0.046,19.575),(-0.059,19.583),(-0.076,19.542),(-0.093,19.509),(-0.110,19.484),(-0.126,19.452),
       (-0.143,19.435),(-0.160,19.419),(-0.177,19.403),(-0.194,19.386),
       (-0.240,19.476),(-0.223,19.509),(-0.207,19.46),(-0.232,19.591),(-0.211,19.624),(-0.190,19.558),
       (-0.173,19.591),(-0.223,19.689),(-0.198,19.706),(-0.181,19.656),(-0.156,19.624),(-0.223,19.771),
       (-0.190,19.755),(-0.164,19.722),(-0.148,19.771),(-0.139,19.558),(-0.122,19.624),(-0.105,19.575),
       (-0.089,19.607),(-0.122,19.689),(-0.097,19.673),(-0.080,19.722),(-0.055,19.64),(-0.030,19.591),
       (-0.046,19.706),(-0.2,19.352),(-0.185,19.395),(-0.168,19.365),(-0.152,19.418),(-0.135,19.39),
       (-0.118,19.465),(-0.101,19.445),(-0.085,19.49),(-0.068,19.5),(-0.051,19.565),(-0.18,19.44),
       (-0.16,19.47),(-0.14,19.485),(-0.118,19.515),(-0.098,19.54)]

# плотное ядро вблизи точки поворота (ряды по величине)
core_row_y = [19.18, 19.20, 19.22, 19.24, 19.26, 19.28, 19.30, 19.32, 19.34, 19.36, 19.38, 19.40, 19.42, 19.44,
              19.46, 19.48, 19.50, 19.52, 19.54, 19.56, 19.58, 19.60, 19.62, 19.64, 19.66, 19.68, 19.70, 19.72,
              19.74, 19.76, 19.78, 19.80]
core_row_x = [
    [-0.318, -0.301, -0.283, -0.266],
    [-0.326, -0.309, -0.292, -0.276, -0.258],
    [-0.334, -0.317, -0.299, -0.283, -0.265, -0.247],
    [-0.341, -0.326, -0.309, -0.291, -0.274, -0.256, -0.238, -0.22],
    [-0.346, -0.331, -0.315, -0.298, -0.282, -0.265, -0.247, -0.229, -0.212],
    [-0.351, -0.336, -0.321, -0.305, -0.289, -0.273, -0.256, -0.24, -0.222, -0.205],
    [-0.354, -0.34, -0.325, -0.31, -0.295, -0.279, -0.262, -0.246, -0.23, -0.214],
    [-0.357, -0.343, -0.328, -0.313, -0.298, -0.283, -0.268, -0.252, -0.236, -0.221],
    [-0.358, -0.344, -0.33, -0.315, -0.3, -0.286, -0.271, -0.256, -0.241, -0.228],
    [-0.359, -0.345, -0.331, -0.317, -0.302, -0.288, -0.273, -0.258, -0.244],
    [-0.36, -0.346, -0.332, -0.318, -0.303, -0.289, -0.275, -0.261, -0.247],
    [-0.36, -0.346, -0.333, -0.319, -0.305, -0.29, -0.276, -0.262, -0.249],
    [-0.361, -0.347, -0.333, -0.319, -0.305, -0.291, -0.277, -0.263, -0.25],
    [-0.361, -0.347, -0.334, -0.32, -0.306, -0.292, -0.278, -0.264, -0.251],
    [-0.362, -0.348, -0.334, -0.32, -0.306, -0.292, -0.278, -0.265, -0.252],
    [-0.362, -0.348, -0.334, -0.321, -0.307, -0.293, -0.279, -0.265, -0.252],
    [-0.362, -0.348, -0.335, -0.321, -0.307, -0.293, -0.279, -0.266, -0.253],
    [-0.362, -0.349, -0.335, -0.321, -0.307, -0.293, -0.28, -0.266, -0.254],
    [-0.362, -0.349, -0.335, -0.321, -0.308, -0.294, -0.28, -0.267, -0.254],
    [-0.362, -0.349, -0.335, -0.322, -0.308, -0.294, -0.281, -0.267, -0.255],
    [-0.362, -0.349, -0.336, -0.322, -0.308, -0.295, -0.281, -0.268, -0.256],
    [-0.361, -0.348, -0.335, -0.322, -0.308, -0.295, -0.282, -0.268, -0.257],
    [-0.361, -0.348, -0.335, -0.322, -0.309, -0.295, -0.282, -0.269, -0.258],
    [-0.36, -0.347, -0.334, -0.321, -0.308, -0.295, -0.282, -0.27, -0.259],
    [-0.36, -0.347, -0.334, -0.321, -0.308, -0.295, -0.283, -0.27],
    [-0.359, -0.346, -0.333, -0.32, -0.308, -0.295, -0.283, -0.271],
    [-0.358, -0.345, -0.333, -0.32, -0.307, -0.295, -0.283, -0.272],
    [-0.357, -0.345, -0.332, -0.32, -0.307, -0.295, -0.283, -0.272],
    [-0.357, -0.344, -0.332, -0.319, -0.307, -0.295, -0.284, -0.273],
    [-0.356, -0.344, -0.331, -0.319, -0.307, -0.295, -0.284, -0.273],
    [-0.356, -0.343, -0.331, -0.319, -0.307, -0.295, -0.284, -0.274],
    [-0.355, -0.343, -0.331, -0.319, -0.307, -0.295, -0.284, -0.274],
]
# второй, смещённый набор рядов ядра
core2_row_y = [19.19, 19.21, 19.23, 19.25, 19.27, 19.29, 19.31, 19.33, 19.35, 19.37, 19.39, 19.41, 19.43, 19.45,
               19.47, 19.49, 19.51, 19.53, 19.55, 19.57, 19.59, 19.61, 19.63, 19.65, 19.67, 19.69, 19.71, 19.73,
               19.75, 19.77, 19.79]
core2_row_x = [
    [-0.33, -0.31, -0.292, -0.274, -0.257],
    [-0.342, -0.322, -0.304, -0.287, -0.27, -0.25],
    [-0.35, -0.333, -0.316, -0.3, -0.282, -0.264, -0.246, -0.23],
    [-0.357, -0.34, -0.323, -0.306, -0.29, -0.273, -0.256, -0.238, -0.221, -0.204],
    [-0.362, -0.345, -0.329, -0.313, -0.297, -0.281, -0.264, -0.248, -0.231, -0.214, -0.197],
    [-0.366, -0.348, -0.333, -0.318, -0.302, -0.287, -0.27, -0.254, -0.238, -0.222, -0.206],
    [-0.368, -0.35, -0.336, -0.321, -0.306, -0.291, -0.276, -0.26, -0.244, -0.229, -0.213],
    [-0.37, -0.351, -0.337, -0.322, -0.308, -0.293, -0.278, -0.263, -0.249, -0.234],
    [-0.37, -0.352, -0.338, -0.324, -0.31, -0.295, -0.281, -0.266, -0.251, -0.237],
    [-0.369, -0.353, -0.339, -0.325, -0.311, -0.296, -0.282, -0.268, -0.254, -0.24],
    [-0.369, -0.354, -0.34, -0.326, -0.312, -0.297, -0.283, -0.269, -0.256],
    [-0.368, -0.354, -0.34, -0.326, -0.312, -0.298, -0.284, -0.27, -0.257],
    [-0.368, -0.354, -0.341, -0.327, -0.313, -0.299, -0.285, -0.271, -0.258],
    [-0.368, -0.355, -0.341, -0.327, -0.313, -0.299, -0.285, -0.272, -0.259],
    [-0.368, -0.355, -0.341, -0.327, -0.314, -0.3, -0.286, -0.272, -0.259],
    [-0.368, -0.355, -0.342, -0.328, -0.314, -0.3, -0.286, -0.273, -0.26],
    [-0.368, -0.355, -0.342, -0.328, -0.314, -0.3, -0.287, -0.273, -0.26],
    [-0.368, -0.355, -0.342, -0.328, -0.315, -0.301, -0.287, -0.274, -0.261],
    [-0.368, -0.355, -0.342, -0.328, -0.315, -0.301, -0.288, -0.274, -0.262],
    [-0.368, -0.355, -0.342, -0.329, -0.315, -0.302, -0.288, -0.275, -0.263],
    [-0.367, -0.354, -0.341, -0.328, -0.315, -0.302, -0.288, -0.275, -0.264],
    [-0.367, -0.354, -0.341, -0.328, -0.315, -0.302, -0.289, -0.276, -0.265],
    [-0.366, -0.353, -0.34, -0.327, -0.314, -0.302, -0.289, -0.276],
    [-0.366, -0.353, -0.34, -0.327, -0.314, -0.301, -0.289, -0.277],
    [-0.365, -0.352, -0.339, -0.327, -0.314, -0.301, -0.289, -0.277],
    [-0.364, -0.351, -0.339, -0.326, -0.313, -0.301, -0.289, -0.278],
    [-0.363, -0.351, -0.338, -0.326, -0.313, -0.301, -0.289, -0.278],
    [-0.363, -0.35, -0.338, -0.325, -0.313, -0.301, -0.29, -0.279],
    [-0.362, -0.35, -0.337, -0.325, -0.313, -0.301, -0.29, -0.279],
    [-0.362, -0.349, -0.337, -0.325, -0.313, -0.301, -0.29, -0.28],
    [-0.361, -0.349, -0.337, -0.325, -0.313, -0.301, -0.29, -0.28],
]

col_p1 = '#377eb8'
col_p2 = '#ff7f00'
col_p3 = '#4daf4a'

plt.rcParams['font.family'] = 'DejaVu Sans'
plt.rcParams['mathtext.fontset'] = 'dejavusans'


def xy(pairs):
    a = np.array(pairs, dtype=float)
    return a[:, 0], a[:, 1]


def fmt(v, nd):
    s = ('%.' + str(nd) + 'f') % (round(v, nd) + 0.0)
    if s.startswith('-') and float(s) == 0.0:
        s = s[1:]
    return s.replace('-', '\u2212')


def style_axes(ax):
    ax.tick_params(axis='both', which='major', direction='in', length=12, width=2.2,
                   top=True, right=True, labelsize=24.5, pad=8)
    for sp in ax.spines.values():
        sp.set_linewidth(2.2)


fig = plt.figure(figsize=(12, 16.39), dpi=100)

# верхняя панель
ax1 = fig.add_axes([0.1483, 0.579, 0.8183, 0.4094])
x, y = xy(top_other)
ax1.scatter(x, y, s=16, c='#8c8c8c', edgecolors='none', zorder=2)
for pairs, col in [(top_p3, col_p3), (top_p2, col_p2), (top_p1, col_p1)]:
    x, y = xy(pairs)
    ax1.scatter(x, y, s=30, c=col, edgecolors='none', zorder=3)
ax1.set_xlim(-0.30, 0.10)
ax1.set_ylim(-0.1, 0.4)
xt1 = np.arange(-0.30, 0.101, 0.05)
yt1 = np.arange(-0.1, 0.401, 0.1)
ax1.set_xticks(xt1)
ax1.set_yticks(yt1)
ax1.set_xticklabels([fmt(v, 2) for v in xt1])
ax1.set_yticklabels([fmt(v, 1) for v in yt1])
ax1.set_xlabel(r'$\mathrm{\Delta G}_{\mathrm{F275W-F814W}}$', fontsize=25, labelpad=20)
ax1.set_ylabel(r'$\mathrm{\Delta C}_{\mathrm{F275W-2\cdot F336W+F438W}}$', fontsize=25, labelpad=22)
style_axes(ax1)
ax1.tick_params(axis='x', pad=13)

# нижняя панель
ax2 = fig.add_axes([0.1483, 0.0750, 0.8183, 0.4100])
gx = []
gy = []
for pairs in [field, clump, left_field, sgb]:
    x, y = xy(pairs)
    gx.extend(x)
    gy.extend(y)
cx = []
cy = []
for rows_y, rows_x in [(core_row_y, core_row_x), (core2_row_y, core2_row_x)]:
    for yy, row in zip(rows_y, rows_x):
        cx.extend(row)
        cy.extend([yy] * len(row))
ax2.scatter(gx, gy, s=20, facecolors='none', edgecolors='#a8a8a8', linewidths=0.9, alpha=0.6, zorder=2)
ax2.scatter(cx, cy, s=20, facecolors='none', edgecolors='#a8a8a8', linewidths=1.2, alpha=0.85, zorder=2)
for pairs, col, lab in [(cmd_p3, col_p3, 'P3'), (cmd_p2, col_p2, 'P2'), (cmd_p1, col_p1, 'P1')]:
    x, y = xy(pairs)
    ax2.scatter(x, y, s=32, c=col, edgecolors='none', zorder=3, label=lab)
ax2.set_xlim(-0.5, 2.0)
ax2.set_ylim(19.8, 16.5)
xt = np.arange(-0.5, 2.01, 0.5)
yt = np.arange(16.5, 19.51, 0.5)
ax2.set_xticks(xt)
ax2.set_yticks(yt)
ax2.set_xticklabels([fmt(v, 1) for v in xt])
ax2.set_yticklabels([fmt(v, 1) for v in yt])
ax2.set_xlabel('F336W - F438W [mag]', fontsize=25, labelpad=10)
ax2.set_ylabel('F336W [mag]', fontsize=25, labelpad=24)
style_axes(ax2)

leg = ax2.legend(loc='lower right', fontsize=29, scatterpoints=1,
                 handlelength=1.8, handletextpad=0.9, borderpad=0.45, labelspacing=0.3,
                 borderaxespad=0.4, fancybox=True, framealpha=1.0)
for h in leg.legend_handles:
    h.set_sizes([40])
leg.get_frame().set_edgecolor('#d0d0d0')
leg.get_frame().set_linewidth(2.5)

fig.savefig('out.png', dpi=100)
